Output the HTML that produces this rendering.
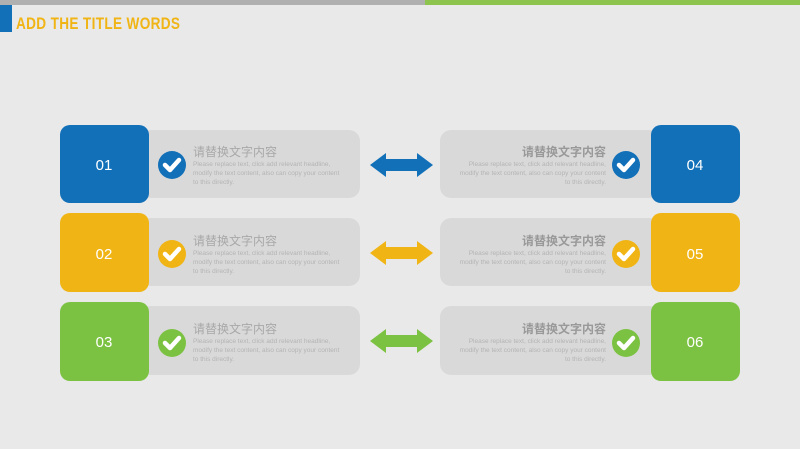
<!DOCTYPE html>
<html><head><meta charset="utf-8"><style>
html,body{margin:0;padding:0;background:#e9e9e9;}
svg{display:block}
</style></head><body>
<svg width="800" height="449" viewBox="0 0 800 449" xmlns="http://www.w3.org/2000/svg" font-family="Liberation Sans, Noto Sans CJK SC, sans-serif">
<rect width="800" height="449" fill="#e9e9e9"/>
<rect x="0" y="0" width="425" height="5" fill="#b0b0b0"/>
<rect x="425" y="0" width="375" height="5" fill="#8cc44e"/>
<rect x="0" y="5" width="12" height="27" fill="#1170b8"/>
<text x="16" y="29" font-size="17" font-weight="bold" fill="#f0b414" transform="translate(16 0) scale(0.8 1) translate(-16 0)" textLength="205">ADD THE TITLE WORDS</text>

<defs>
<g id="chk"><path d="M-7 0 L-2 5 L7 -5" fill="none" stroke="#fff" stroke-width="4.5" stroke-linecap="round" stroke-linejoin="round"/></g>
</defs>

<!-- rows -->
<g id="rows">
<!-- row1 -->
<rect x="140" y="130" width="220" height="68" rx="11" fill="#d9d9d9"/>
<rect x="440" y="130" width="220" height="68" rx="11" fill="#d9d9d9"/>
<rect x="60" y="125" width="89" height="78" rx="10" fill="#1170b8"/>
<rect x="651" y="125" width="89" height="78" rx="10" fill="#1170b8"/>
<!-- row2 -->
<rect x="140" y="218" width="220" height="68" rx="11" fill="#d9d9d9"/>
<rect x="440" y="218" width="220" height="68" rx="11" fill="#d9d9d9"/>
<rect x="60" y="213" width="89" height="79" rx="10" fill="#f0b414"/>
<rect x="651" y="213" width="89" height="79" rx="10" fill="#f0b414"/>
<!-- row3 -->
<rect x="140" y="306" width="220" height="69" rx="11" fill="#d9d9d9"/>
<rect x="440" y="306" width="220" height="69" rx="11" fill="#d9d9d9"/>
<rect x="60" y="302" width="89" height="79" rx="10" fill="#7cc242"/>
<rect x="651" y="302" width="89" height="79" rx="10" fill="#7cc242"/>
</g>

<g font-size="15" fill="#fff" text-anchor="middle">
<text x="104" y="170">01</text><text x="695" y="170">04</text>
<text x="104" y="259">02</text><text x="695" y="259">05</text>
<text x="104" y="347">03</text><text x="695" y="347">06</text>
</g>

<!-- check circles -->
<circle cx="172" cy="165" r="14" fill="#1170b8"/><use href="#chk" x="172" y="165"/>
<circle cx="626" cy="165" r="14" fill="#1170b8"/><use href="#chk" x="626" y="165"/>
<circle cx="172" cy="254" r="14" fill="#f0b414"/><use href="#chk" x="172" y="254"/>
<circle cx="626" cy="254" r="14" fill="#f0b414"/><use href="#chk" x="626" y="254"/>
<circle cx="172" cy="343" r="14" fill="#7cc242"/><use href="#chk" x="172" y="343"/>
<circle cx="626" cy="343" r="14" fill="#7cc242"/><use href="#chk" x="626" y="343"/>

<!-- arrows -->
<path d="M370 165 L386 153 L386 159 L417 159 L417 153 L433 165 L417 177 L417 171 L386 171 L386 177 Z" fill="#1170b8"/>
<path d="M370 253 L386 241 L386 247 L417 247 L417 241 L433 253 L417 265 L417 259 L386 259 L386 265 Z" fill="#f0b414"/>
<path d="M370 341 L386 329 L386 335 L417 335 L417 329 L433 341 L417 353 L417 347 L386 347 L386 353 Z" fill="#7cc242"/>

<!-- left texts -->
<g fill="#a8a8a8">
<text x="193" y="156" font-size="12">请替换文字内容</text>
<text x="193" y="245" font-size="12">请替换文字内容</text>
<text x="193" y="333" font-size="12">请替换文字内容</text>
</g>
<g fill="#b4b4b4" font-size="6.5">
<text x="193" y="166">Please replace text, click add relevant headline,</text>
<text x="193" y="175">modify the text content, also can copy your content</text>
<text x="193" y="184">to this directly.</text>
<text x="193" y="255">Please replace text, click add relevant headline,</text>
<text x="193" y="264">modify the text content, also can copy your content</text>
<text x="193" y="273">to this directly.</text>
<text x="193" y="343">Please replace text, click add relevant headline,</text>
<text x="193" y="352">modify the text content, also can copy your content</text>
<text x="193" y="361">to this directly.</text>
</g>
<!-- right texts -->
<g fill="#999" text-anchor="end" font-weight="bold">
<text x="606" y="156" font-size="12">请替换文字内容</text>
<text x="606" y="245" font-size="12">请替换文字内容</text>
<text x="606" y="333" font-size="12">请替换文字内容</text>
</g>
<g fill="#b4b4b4" font-size="6.5" text-anchor="end">
<text x="606" y="166">Please replace text, click add relevant headline,</text>
<text x="606" y="175">modify the text content, also can copy your content</text>
<text x="606" y="184">to this directly.</text>
<text x="606" y="255">Please replace text, click add relevant headline,</text>
<text x="606" y="264">modify the text content, also can copy your content</text>
<text x="606" y="273">to this directly.</text>
<text x="606" y="343">Please replace text, click add relevant headline,</text>
<text x="606" y="352">modify the text content, also can copy your content</text>
<text x="606" y="361">to this directly.</text>
</g>
</svg>
</body></html>
